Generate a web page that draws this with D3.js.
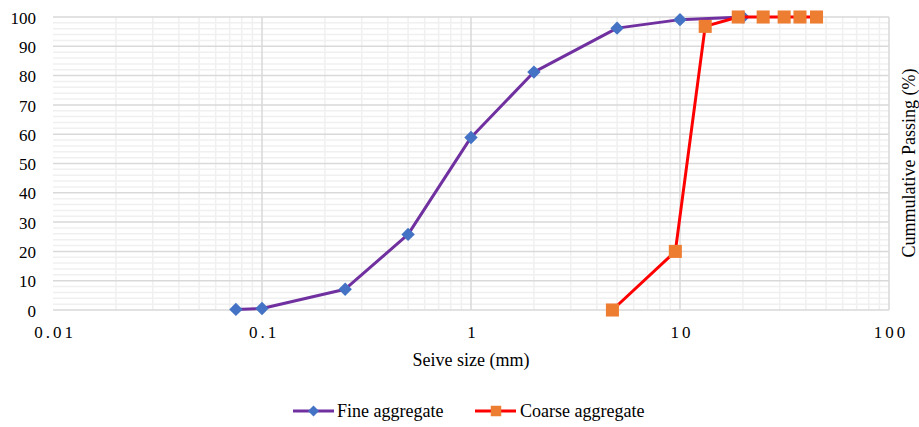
<!DOCTYPE html>
<html>
<head>
<meta charset="utf-8">
<script src="https://cdn.jsdelivr.net/npm/d3@7"></script>
<style>
  html, body { margin: 0; padding: 0; background: #fff; }
  svg { display: block; font-family: "Liberation Serif", "Times New Roman", serif; }
</style>
</head>
<body>
<svg id="chart" width="919" height="427"></svg>
<script>
// Sieve analysis: cumulative passing vs. sieve size
const fineSizes   = [0.075, 0.1, 0.25, 0.5, 1, 2, 5, 10, 20];
const finePassing = [0.2, 0.5, 7.1, 25.8, 58.9, 81.2, 96.2, 99.1, 100];

const coarseSizes   = [4.75, 9.5, 13.2, 19, 25, 31.5, 37.5, 45];
const coarsePassing = [0, 20, 96.8, 100, 100, 100, 100, 100];

const xTickValues = [0.01, 0.1, 1, 10, 100];
const xTickLabels = ["0.01", "0.1", "1", "10", "100"];
const yTickValues = [0, 10, 20, 30, 40, 50, 60, 70, 80, 90, 100];

const seriesNames = ["Fine aggregate", "Coarse aggregate"];

const svg = d3.select("#chart");
const plot = { left: 53, right: 889, top: 17, bottom: 310 };

const x = d3.scaleLog().domain([0.01, 100]).range([plot.left, plot.right]);
const y = d3.scaleLinear().domain([0, 100]).range([plot.bottom, plot.top]);

// minor grid
const g = svg.append("g");
const minorX = [];
[0.01, 0.1, 1, 10].forEach(d => { for (let k = 2; k <= 9; k++) minorX.push(d * k); });
g.selectAll(".mx").data(minorX).enter().append("line")
  .attr("x1", d => x(d)).attr("x2", d => x(d))
  .attr("y1", plot.top).attr("y2", plot.bottom)
  .attr("stroke", "#f0f0f0").attr("stroke-width", 1.5);
const minorY = d3.range(2, 100, 2).filter(v => v % 10 !== 0);
g.selectAll(".my").data(minorY).enter().append("line")
  .attr("x1", plot.left).attr("x2", plot.right)
  .attr("y1", d => y(d)).attr("y2", d => y(d))
  .attr("stroke", "#f0f0f0").attr("stroke-width", 1.5);

// major grid
g.selectAll(".Mx").data([0.1, 1, 10, 100]).enter().append("line")
  .attr("x1", d => x(d)).attr("x2", d => x(d))
  .attr("y1", plot.top).attr("y2", plot.bottom)
  .attr("stroke", "#d9d9d9").attr("stroke-width", 1.5);
g.selectAll(".My").data(yTickValues).enter().append("line")
  .attr("x1", plot.left).attr("x2", plot.right)
  .attr("y1", d => y(d)).attr("y2", d => y(d))
  .attr("stroke", "#d9d9d9").attr("stroke-width", 1.5);

// axes (labels only, lines come from the grid)
const yAxis = d3.axisLeft(y).tickValues(yTickValues).tickSize(0).tickPadding(0).tickFormat(d3.format("d"));
const yG = svg.append("g").attr("transform", `translate(36,0)`).call(yAxis);
yG.select(".domain").remove();
yG.selectAll("text").attr("font-family", "Liberation Serif").attr("font-size", 17)
  .attr("fill", "#000").attr("dy", "0.36em");

const xAxis = d3.axisBottom(x).tickValues(xTickValues).tickSize(0).tickPadding(0)
  .tickFormat((d, i) => xTickLabels[i]);
const xG = svg.append("g").attr("transform", `translate(0,${plot.bottom})`).call(xAxis);
xG.select(".domain").remove();
xG.selectAll("text").attr("font-family", "Liberation Serif").attr("font-size", 17)
  .attr("fill", "#000").attr("y", 28).attr("dy", 0)
  .style("letter-spacing", "3px").attr("dx", "1.5px");

// axis titles
svg.append("text").attr("x", 471).attr("y", 366).attr("text-anchor", "middle")
  .attr("font-size", 18).attr("fill", "#000").text("Seive size (mm)");
svg.append("text").attr("transform", "translate(915,163) rotate(-90)")
  .attr("text-anchor", "middle").attr("font-size", 18).attr("fill", "#000")
  .text("Cummulative Passing (%)");

// series
const fine = fineSizes.map((s, i) => ({ s, p: finePassing[i] }));
const coarse = coarseSizes.map((s, i) => ({ s, p: coarsePassing[i] }));
const line = d3.line().x(d => x(d.s)).y(d => y(d.p));

const fineColor = "#7030A0", fineMarker = "#4472C4";
const coarseColor = "#FF0000", coarseMarker = "#ED7D31";

const square = d3.symbol().type(d3.symbolSquare).size(170);

svg.append("path").datum(fine).attr("d", line).attr("fill", "none")
  .attr("stroke", fineColor).attr("stroke-width", 3).attr("stroke-linejoin", "round");
svg.selectAll(".fm").data(fine).enter().append("path")
  .attr("transform", d => `translate(${x(d.s)},${y(d.p)}) rotate(45)`)
  .attr("d", d3.symbol().type(d3.symbolSquare).size(90)).attr("fill", fineMarker);

svg.append("path").datum(coarse).attr("d", line).attr("fill", "none")
  .attr("stroke", coarseColor).attr("stroke-width", 3).attr("stroke-linejoin", "round");
svg.selectAll(".cm").data(coarse).enter().append("path")
  .attr("transform", d => `translate(${x(d.s)},${y(d.p)})`)
  .attr("d", square).attr("fill", coarseMarker);

// legend
const legend = [
  { name: seriesNames[0], x0: 293, color: fineColor, marker: fineMarker, kind: "diamond", tx: 337 },
  { name: seriesNames[1], x0: 475, color: coarseColor, marker: coarseMarker, kind: "square", tx: 520 }
];
const ly = 411;
legend.forEach(l => {
  svg.append("line").attr("x1", l.x0).attr("x2", l.x0 + 41).attr("y1", ly).attr("y2", ly)
    .attr("stroke", l.color).attr("stroke-width", 3);
  if (l.kind === "diamond") {
    svg.append("path").attr("transform", `translate(${l.x0 + 20.5},${ly}) rotate(45)`)
      .attr("d", d3.symbol().type(d3.symbolSquare).size(60)).attr("fill", l.marker);
  } else {
    svg.append("path").attr("transform", `translate(${l.x0 + 21},${ly})`)
      .attr("d", d3.symbol().type(d3.symbolSquare).size(110)).attr("fill", l.marker);
  }
  svg.append("text").attr("x", l.tx).attr("y", ly + 6).attr("font-size", 18)
    .attr("fill", "#000").text(l.name);
});
</script>
</body>
</html>
